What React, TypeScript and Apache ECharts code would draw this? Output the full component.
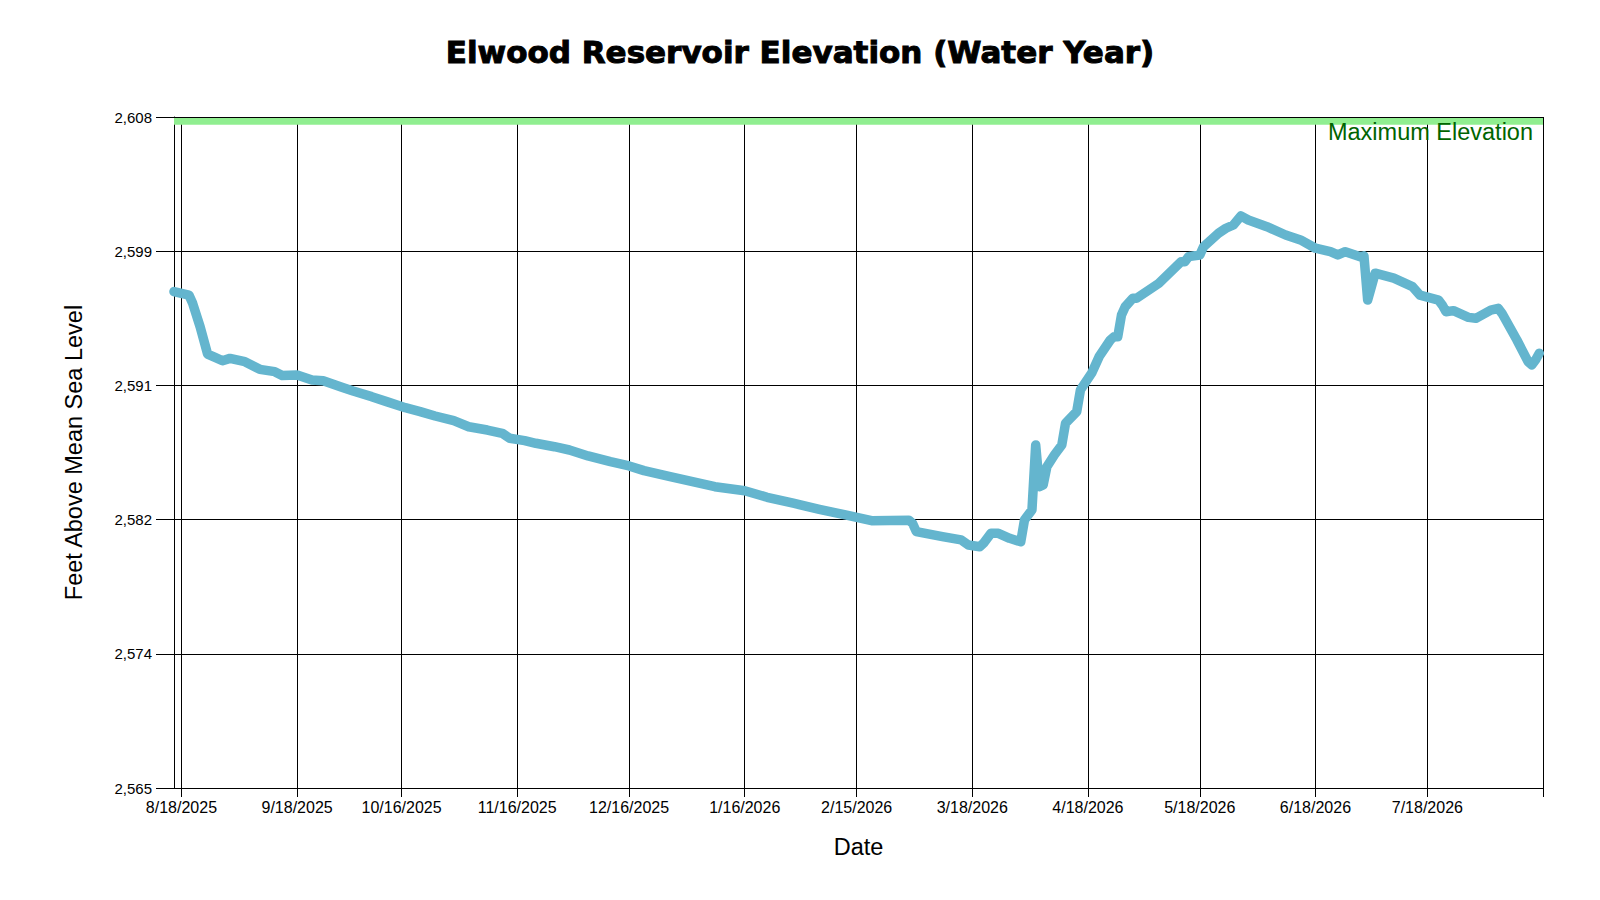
import React, { useEffect, useRef } from 'react';
import * as echarts from 'echarts';

const dates: string[] = [
  '2025-08-16','2025-08-20','2025-08-21','2025-08-23','2025-08-25','2025-08-27','2025-08-29','2025-08-31',
  '2025-09-04','2025-09-08','2025-09-12','2025-09-14','2025-09-18','2025-09-22','2025-09-25','2025-09-30',
  '2025-10-03','2025-10-08','2025-10-12','2025-10-17','2025-10-21','2025-10-25','2025-10-30',
  '2025-11-03','2025-11-08','2025-11-12','2025-11-14','2025-11-18','2025-11-21','2025-11-26','2025-11-30',
  '2025-12-05','2025-12-11','2025-12-16','2025-12-20','2025-12-27',
  '2026-01-02','2026-01-08','2026-01-16','2026-01-22','2026-01-29',
  '2026-02-05','2026-02-12','2026-02-19',
  '2026-03-01','2026-03-02','2026-03-03','2026-03-10','2026-03-15','2026-03-17','2026-03-20','2026-03-21',
  '2026-03-23','2026-03-25','2026-03-28','2026-03-31',
  '2026-04-01','2026-04-03','2026-04-04','2026-04-05','2026-04-06','2026-04-07','2026-04-09','2026-04-11',
  '2026-04-12','2026-04-15','2026-04-16','2026-04-19','2026-04-21','2026-04-24','2026-04-25','2026-04-26',
  '2026-04-27','2026-04-28','2026-04-30',
  '2026-05-01','2026-05-07','2026-05-13','2026-05-14','2026-05-15','2026-05-18','2026-05-19','2026-05-23',
  '2026-05-25','2026-05-27','2026-05-29','2026-05-31',
  '2026-06-05','2026-06-10','2026-06-14','2026-06-18','2026-06-22','2026-06-24','2026-06-26','2026-06-30',
  '2026-07-01','2026-07-02','2026-07-03','2026-07-04','2026-07-09','2026-07-14','2026-07-16','2026-07-21',
  '2026-07-22','2026-07-23','2026-07-25','2026-07-29','2026-07-31',
  '2026-08-04','2026-08-06','2026-08-07','2026-08-11','2026-08-14','2026-08-15','2026-08-16','2026-08-17',
];

const elevations: number[] = [
  2596.81, 2596.59, 2596.06, 2594.56, 2592.81, 2592.6, 2592.38, 2592.53,
  2592.32, 2591.83, 2591.68, 2591.43, 2591.47, 2591.15, 2591.1, 2590.68,
  2590.44, 2590.08, 2589.76, 2589.37, 2589.12, 2588.84, 2588.54,
  2588.15, 2587.94, 2587.73, 2587.41, 2587.26, 2587.09, 2586.87, 2586.66,
  2586.28, 2585.91, 2585.64, 2585.34, 2584.95,
  2584.63, 2584.31, 2584.05, 2583.63, 2583.25,
  2582.86, 2582.5, 2582.13,
  2582.16, 2581.96, 2581.43, 2581.11, 2580.9, 2580.57, 2580.46, 2580.68,
  2581.32, 2581.32, 2581.0, 2580.78,
  2582.18, 2582.82, 2586.98, 2584.31, 2584.42, 2585.59, 2586.34, 2586.98,
  2588.37, 2589.12, 2590.51, 2591.58, 2592.64, 2593.71, 2593.92, 2593.92,
  2595.31, 2595.84, 2596.38,
  2596.38, 2597.34, 2598.73, 2598.73, 2599.05, 2599.16, 2599.69, 2600.55,
  2600.87, 2601.08, 2601.66, 2601.4,
  2600.97, 2600.44, 2600.12, 2599.59, 2599.37, 2599.16, 2599.37, 2599.05,
  2599.1, 2596.27, 2597.13, 2597.99, 2597.67, 2597.13, 2596.59, 2596.27,
  2595.95, 2595.52, 2595.59, 2595.16, 2595.1,
  2595.63, 2595.74, 2595.42, 2593.71, 2592.32, 2592.11, 2592.43, 2592.86,
];

const xTickDates: string[] = [
  '2025-08-18','2025-09-18','2025-10-16','2025-11-16','2025-12-16','2026-01-16',
  '2026-02-15','2026-03-18','2026-04-18','2026-05-18','2026-06-18','2026-07-18','2026-08-18',
];
const xLabelDates: string[] = xTickDates.slice(0, 12);
const xRange: string[] = ['2025-08-16', '2026-08-18'];

const yTicks: number[] = [2565, 2573.6, 2582.2, 2590.8, 2599.4, 2608];
const yRange: number[] = [2565, 2608];
const maxElevationBand: number[] = [2607.5, 2607.94];
const maxElevationLabel = 'Maximum Elevation';

function ts(s: string): number {
  const [y, m, d] = s.split('-').map(Number);
  return new Date(y, m - 1, d).getTime();
}

const FONT = '"Liberation Sans", Arial, sans-serif';

export default function App() {
  const ref = useRef<HTMLDivElement>(null);

  useEffect(() => {
    document.body.style.margin = '0';
    if (!ref.current) return;
    const chart = echarts.init(ref.current, undefined, { renderer: 'svg' });
    const seriesData = dates.map((d, i) => [ts(d), elevations[i]]);

    chart.setOption({
      animation: false,
      backgroundColor: '#ffffff',
      title: {
        text: 'Elwood Reservoir Elevation (Water Year)',
        left: 'center',
        top: 31,
        textStyle: {
          fontFamily: '"DejaVu Sans", sans-serif',
          fontWeight: 'bold',
          fontSize: 31,
          color: '#000',
          textBorderColor: '#000',
          textBorderWidth: 1,
        },
      },
      grid: { left: 174, right: 57, top: 117, bottom: 112, containLabel: false },
      xAxis: {
        type: 'value',
        min: ts(xRange[0]),
        max: ts(xRange[1]),
        name: 'Date',
        nameLocation: 'middle',
        nameGap: 47,
        nameTextStyle: { fontFamily: FONT, fontSize: 23.5, color: '#000' },
        axisLine: { show: true, lineStyle: { color: '#000', width: 1 } },
        axisTick: {
          show: true,
          length: 9,
          lineStyle: { color: '#000', width: 1 },
          customValues: xTickDates.map(ts),
        },
        axisLabel: {
          show: true,
          margin: 11,
          fontFamily: FONT,
          fontSize: 16,
          color: '#000',
          customValues: xLabelDates.map(ts),
          hideOverlap: false,
          formatter: (v: number) => {
            const dt = new Date(v);
            return `${dt.getMonth() + 1}/${dt.getDate()}/${dt.getFullYear()}`;
          },
        },
        splitLine: { show: true, lineStyle: { color: '#000', width: 1 } },
      },
      yAxis: {
        type: 'value',
        min: yRange[0],
        max: yRange[1],
        name: 'Feet Above Mean Sea Level',
        nameLocation: 'middle',
        nameGap: 88,
        nameRotate: 90,
        nameTextStyle: { fontFamily: FONT, fontSize: 23.5, color: '#000' },
        axisLine: { show: true, lineStyle: { color: '#000', width: 1 } },
        axisTick: {
          show: true,
          length: 18,
          lineStyle: { color: '#000', width: 1 },
          customValues: yTicks,
        },
        axisLabel: {
          show: true,
          margin: 22,
          fontFamily: FONT,
          fontSize: 15,
          color: '#000',
          customValues: yTicks,
          formatter: (v: number) => Math.round(v).toLocaleString('en-US'),
        },
        splitLine: { show: true, lineStyle: { color: '#000', width: 1 } },
      },
      series: [
        {
          type: 'line',
          data: seriesData,
          showSymbol: false,
          symbol: 'none',
          smooth: false,
          lineStyle: { color: '#64B5CE', width: 9.5, join: 'round', cap: 'round' },
          itemStyle: { color: '#64B5CE' },
          z: 3,
          markArea: {
            silent: true,
            itemStyle: { color: '#90EE90', opacity: 1 },
            label: {
              show: true,
              position: 'insideTopRight',
              distance: 0,
              offset: [-10, 2],
              color: '#006400',
              fontFamily: FONT,
              fontSize: 23.5,
              formatter: maxElevationLabel,
            },
            data: [[{ yAxis: maxElevationBand[0] }, { yAxis: maxElevationBand[1] }]],
          },
        },
      ],
    });

    return () => chart.dispose();
  }, []);

  return (
    <div
      ref={ref}
      style={{ position: 'fixed', left: 0, top: 0, width: 1600, height: 900, background: '#fff' }}
    />
  );
}
